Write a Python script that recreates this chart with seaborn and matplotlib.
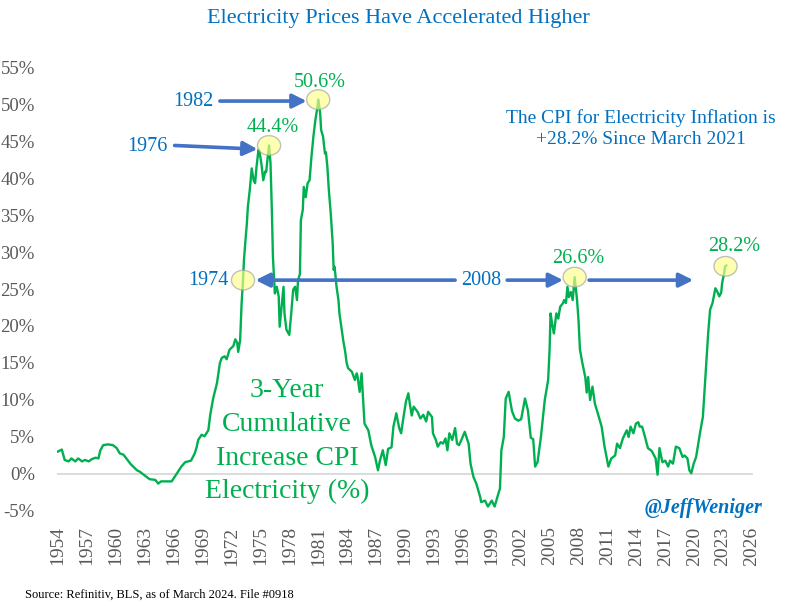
import matplotlib
matplotlib.use("Agg")
import matplotlib.pyplot as plt
import seaborn as sns
import numpy as np
from matplotlib.patches import Ellipse

# 3-year cumulative change in CPI electricity (%)
years = [
    1953.95, 1954.4, 1954.7, 1955.1, 1955.4, 1955.8, 1956.1, 1956.5, 1956.8, 1957.2,
    1957.5, 1957.9, 1958.2, 1958.4, 1958.7, 1959.2, 1959.7, 1960.1, 1960.4, 1960.8,
    1961.1, 1961.5, 1961.8, 1962.2, 1962.5, 1962.9, 1963.2, 1963.5, 1964.1, 1964.4,
    1964.7, 1965.3, 1965.8, 1966.1, 1966.5, 1966.8, 1967.2, 1967.5, 1967.8, 1968.2,
    1968.4, 1968.55, 1968.9, 1969.2, 1969.6, 1969.8, 1970.1, 1970.5, 1970.65, 1970.8,
    1971.0, 1971.3, 1971.5, 1971.8, 1972.2, 1972.4, 1972.6, 1972.7, 1972.9, 1973.05,
    1973.2, 1973.3, 1973.4, 1973.6, 1973.7, 1973.9, 1974.1, 1974.3, 1974.45, 1974.6,
    1974.8, 1974.9, 1975.1, 1975.3, 1975.5, 1975.6, 1975.8, 1975.9, 1976.05, 1976.2,
    1976.3, 1976.5, 1976.7, 1976.9, 1977.0, 1977.2, 1977.4, 1977.5, 1977.7, 1978.0,
    1978.2, 1978.4, 1978.6, 1978.8, 1978.9, 1979.1, 1979.2, 1979.4, 1979.5, 1979.7,
    1979.9, 1980.1, 1980.3, 1980.5, 1980.7, 1980.9, 1981.0, 1981.2, 1981.3, 1981.5,
    1981.7, 1981.8, 1981.95, 1982.1, 1982.3, 1982.5, 1982.6, 1982.7, 1982.9, 1983.1,
    1983.2, 1983.4, 1983.6, 1983.8, 1983.95, 1984.1, 1984.5, 1984.8, 1985.0, 1985.1,
    1985.3, 1985.5, 1985.7, 1985.8, 1986.2, 1986.5, 1986.9, 1987.2, 1987.4, 1987.7,
    1988.0, 1988.25, 1988.6, 1988.8, 1989.1, 1989.4, 1989.6, 1989.8, 1990.1, 1990.35,
    1990.5, 1990.7, 1990.9, 1991.3, 1991.6, 1991.9, 1992.2, 1992.4, 1992.8, 1992.9,
    1993.2, 1993.4, 1993.7, 1993.95, 1994.2, 1994.4, 1994.6, 1994.9, 1995.2, 1995.4,
    1995.6, 1995.85, 1996.2, 1996.6, 1996.8, 1997.1, 1997.4, 1997.8, 1997.9, 1998.3,
    1998.6, 1999.0, 1999.3, 1999.7, 1999.85, 2000.0, 2000.25, 2000.45, 2000.75, 2001.1,
    2001.4, 2001.75, 2002.05, 2002.45, 2002.75, 2003.05, 2003.3, 2003.5, 2003.75, 2004.1,
    2004.5, 2004.85, 2005.0, 2005.1, 2005.3, 2005.45, 2005.7, 2005.9, 2006.1, 2006.4,
    2006.5, 2006.7, 2006.85, 2007.0, 2007.2, 2007.4, 2007.6, 2007.7, 2007.85, 2008.0,
    2008.15, 2008.4, 2008.7, 2008.85, 2009.0, 2009.2, 2009.45, 2009.7, 2010.0, 2010.4,
    2010.7, 2011.1, 2011.4, 2011.8, 2012.0, 2012.3, 2012.6, 2013.0, 2013.2, 2013.4,
    2013.7, 2013.95, 2014.2, 2014.35, 2014.6, 2014.9, 2015.2, 2015.6, 2016.0, 2016.2,
    2016.4, 2016.7, 2017.0, 2017.3, 2017.5, 2017.8, 2018.1, 2018.45, 2018.8, 2019.0,
    2019.3, 2019.5, 2019.7, 2019.95, 2020.2, 2020.4, 2020.65, 2020.9, 2021.1, 2021.3,
    2021.45, 2021.65, 2021.9, 2022.2, 2022.45, 2022.6, 2022.8, 2022.9, 2023.1, 2023.2,
    2023.35,
]
change_pct = [
    3.0, 3.3, 1.9, 1.7, 2.1, 1.7, 2.1, 1.7, 1.9, 1.7,
    2.0, 2.2, 2.1, 3.2, 3.9, 4.0, 3.9, 3.5, 2.8, 2.6,
    2.1, 1.4, 1.0, 0.5, 0.3, -0.1, -0.4, -0.7, -0.8, -1.3,
    -1.0, -1.0, -1.0, -0.4, 0.4, 1.0, 1.6, 1.7, 1.8, 2.8,
    3.7, 4.6, 5.3, 5.1, 5.9, 8.0, 10.2, 12.3, 13.6, 15.0,
    15.7, 15.9, 15.5, 16.8, 17.3, 18.2, 17.7, 16.5, 18.1, 23.0,
    26.2, 29.0, 30.7, 33.9, 36.1, 38.4, 41.3, 39.7, 39.3, 41.5,
    43.8, 43.6, 42.0, 39.7, 40.9, 40.8, 43.3, 44.4, 42.0, 35.2,
    29.4, 24.4, 25.3, 24.0, 19.9, 22.6, 25.3, 21.7, 19.5, 18.8,
    21.7, 24.9, 25.3, 23.5, 26.2, 27.0, 34.3, 35.7, 38.8, 37.4,
    39.3, 39.7, 42.9, 45.6, 47.8, 49.4, 50.6, 48.8, 46.5, 45.6,
    43.3, 43.5, 41.5, 38.4, 35.2, 31.2, 27.6, 28.0, 25.3, 23.5,
    21.7, 19.9, 18.0, 16.5, 15.0, 14.3, 13.8, 12.7, 13.6, 13.0,
    11.1, 13.6, 9.1, 6.8, 5.9, 3.9, 2.3, 0.5, 1.8, 3.2,
    1.2, 3.4, 3.6, 6.4, 8.2, 6.2, 5.5, 7.3, 9.8, 10.9,
    9.5, 7.9, 9.1, 8.4, 7.5, 8.0, 7.1, 8.4, 7.7, 5.5,
    4.6, 3.7, 4.3, 4.1, 4.8, 3.2, 5.5, 4.6, 6.2, 4.1,
    3.9, 4.6, 5.7, 4.1, 1.4, -0.4, -1.3, -3.1, -3.8, -3.6,
    -4.4, -3.6, -4.4, -2.6, -2.0, 3.2, 5.0, 10.2, 11.1, 8.5,
    7.5, 7.2, 7.4, 10.2, 8.6, 4.9, 4.7, 1.0, 1.6, 5.0,
    10.0, 12.7, 16.8, 21.7, 20.0, 19.0, 21.7, 21.0, 22.6, 23.1,
    23.5, 23.1, 25.3, 23.9, 24.6, 23.5, 26.6, 25.3, 23.5, 20.8,
    16.8, 15.0, 13.1, 11.0, 13.1, 10.0, 11.8, 9.5, 8.2, 6.4,
    3.7, 1.0, 2.1, 2.5, 4.1, 3.5, 4.8, 5.9, 5.0, 6.4,
    5.5, 6.8, 7.0, 6.4, 6.4, 5.0, 3.5, 3.1, 2.1, -0.1,
    3.5, 1.6, 1.8, 1.0, 1.8, 1.4, 3.7, 3.5, 2.3, 2.5,
    2.1, 0.5, 0.1, 1.4, 2.3, 3.9, 5.9, 7.7, 11.8, 15.9,
    19.0, 22.2, 23.1, 25.1, 24.5, 24.0, 24.5, 25.8, 27.1, 28.0,
    28.2,
]

x_ticks = list(range(1954, 2027, 3))
y_ticks = list(range(-5, 56, 5))

# highlighted points (yellow circles) and the labels next to them
circle_years = [1973.2, 1975.9, 1981.0, 2007.6, 2023.25]
peak_labels = ["44.4%", "50.6%", "26.6%", "28.2%"]
peak_label_pos = [(1976.3, 46.8), (1981.2, 52.9), (2008.0, 29.1), (2024.1, 30.8)]

BLUE_TXT = "#0070C0"
BLUE_ARROW = "#4472C4"
GREEN = "#00B050"
GRAY = "#595959"
SERIF = ["Liberation Serif", "DejaVu Serif"]

sns.set_style("white")
plt.rcParams["font.family"] = SERIF

fig = plt.figure(figsize=(7.98, 6.06), dpi=100)
ax = fig.add_axes([0.0714, 0.1568, 0.8722, 0.7326])

ax.axhline(0, color="#D9D9D9", lw=1.3, zorder=1)
sns.lineplot(x=years, y=change_pct, ax=ax, color=GREEN, lw=1.7, zorder=2)

ax.set_xlim(1953.9, 2026.1)
ax.set_ylim(-5, 55)
ax.set_xticks(x_ticks)
ax.set_xticklabels([str(y) for y in x_ticks], rotation=90, fontsize=14, color=GRAY)
ax.set_yticks(y_ticks)
ax.set_yticklabels([f"{v}%" for v in y_ticks], fontsize=13.5, color=GRAY)
ax.tick_params(axis="both", length=0)
ax.tick_params(axis="x", pad=11)
ax.tick_params(axis="y", pad=16)
for s in ax.spines.values():
    s.set_visible(False)
ax.set_xlabel("")
ax.set_ylabel("")

# yellow highlight circles on the line
for cy in circle_years:
    cv = np.interp(cy, years, change_pct)
    ax.add_patch(Ellipse((cy, cv), width=2.4, height=2.65, facecolor="#FFFF88",
                         alpha=0.65, edgecolor="#A0A0A0", lw=1.0, zorder=3))

for lab, (lx, ly) in zip(peak_labels, peak_label_pos):
    ax.text(lx, ly, lab, color=GREEN, fontsize=14.5, ha="center", va="center")

# year labels and arrows
arrow_kw = dict(arrowstyle="-|>", color=BLUE_ARROW, lw=2.6, mutation_scale=21,
                shrinkA=0, shrinkB=0)
ax.text(1968.0, 50.4, "1982", color=BLUE_TXT, fontsize=14.5, ha="center", va="center")
ax.annotate("", xy=(1979.8, 50.4), xytext=(1970.8, 50.4), arrowprops=arrow_kw)
ax.text(1963.3, 44.3, "1976", color=BLUE_TXT, fontsize=14.5, ha="center", va="center")
ax.annotate("", xy=(1974.7, 43.9), xytext=(1966.1, 44.4), arrowprops=arrow_kw)
ax.text(1969.6, 26.2, "1974", color=BLUE_TXT, fontsize=14.5, ha="center", va="center")
ax.annotate("", xy=(1974.5, 26.2), xytext=(1995.2, 26.2), arrowprops=arrow_kw)
ax.text(1997.9, 26.2, "2008", color=BLUE_TXT, fontsize=14.5, ha="center", va="center")
ax.annotate("", xy=(2006.4, 26.2), xytext=(2000.6, 26.2), arrowprops=arrow_kw)
ax.annotate("", xy=(2019.9, 26.2), xytext=(2009.1, 26.2), arrowprops=arrow_kw)

ax.text(2014.5, 46.7, "The CPI for Electricity Inflation is\n+28.2% Since March 2021",
        color=BLUE_TXT, fontsize=14, ha="center", va="center", linespacing=1.35)
ax.text(1977.75, 4.4, "3-Year\nCumulative\nIncrease CPI\nElectricity (%)",
        color=GREEN, fontsize=20, ha="center", va="center", linespacing=1.45)

fig.text(0.499, 0.970, "Electricity Prices Have Accelerated Higher", color=BLUE_TXT,
         fontsize=16, ha="center", va="center")
fig.text(0.882, 0.162, "@JeffWeniger", color=BLUE_TXT, fontsize=14.5,
         fontweight="bold", style="italic", ha="center", va="center")
fig.text(0.031, 0.018, "Source: Refinitiv, BLS, as of March 2024. File #0918",
         color="black", fontsize=9, ha="left", va="center")

fig.savefig("out.png", dpi=100)
